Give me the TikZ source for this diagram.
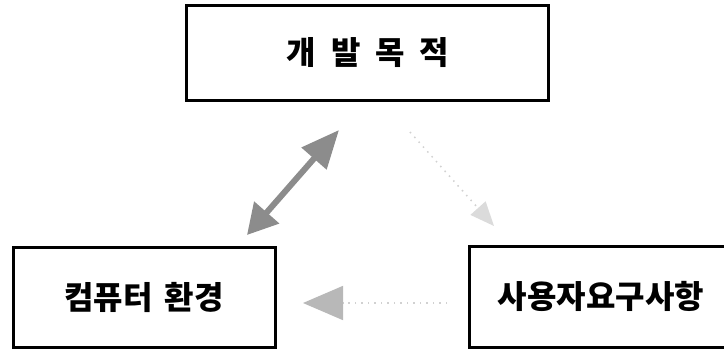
\documentclass[tikz,border=0pt]{standalone}
\usepackage{fontspec}
\newfontfamily\kr{Noto Sans CJK KR}
\usetikzlibrary{arrows.meta}
\tikzset{
  box/.style={draw=black, line width=3pt, inner sep=0pt, font=\kr\bfseries\fontsize{32}{32}\selectfont},
  darkarrow/.style={draw=black!45, line width=6pt,
    {Triangle[width=32pt,length=30pt,fill=black!45]}-{Triangle[width=32pt,length=38pt,fill=black!45]}},
  faintarrow/.style={draw=black!18, line width=1.5pt, dash pattern=on 1.5pt off 5pt,
    -{Triangle[width=20pt,length=24pt,fill=black!14,color=black!14]}},
  lowarrow/.style={draw=black!18, line width=1.5pt, dash pattern=on 1.5pt off 5pt,
    -{Triangle[width=34pt,length=40pt,fill=black!28,color=black!28]}}
}
\begin{document}
\begin{tikzpicture}[x=1pt,y=-1pt]
\useasboundingbox (0,0) rectangle (724,349);
\fill[white] (0,0) rectangle (724,349);
\node[box, minimum width=362pt, minimum height=95pt] (goal) at (367,52.5)
  {\hspace{2pt}개\hspace{15pt}발\hspace{15pt}목\hspace{15pt}적};
\node[box, minimum width=262pt, minimum height=100pt] (comp) at (144,297)
  {컴퓨터\hspace{5pt} 환경};
\node[box, minimum width=258pt, minimum height=101pt] (user) at (598,296.5)
  {\hspace{6pt}사용자요구사항};
\coordinate (d1) at (247,235);
\coordinate (d2) at (339,130);
\draw[darkarrow] (d1) -- (d2);
\coordinate (r1) at (410,132);
\coordinate (r2) at (494,226);
\draw[faintarrow] (r1) -- (r2);
\coordinate (b1) at (447,303);
\coordinate (b2) at (303,303);
\draw[lowarrow] (b1) -- (b2);
\end{tikzpicture}
\end{document}
